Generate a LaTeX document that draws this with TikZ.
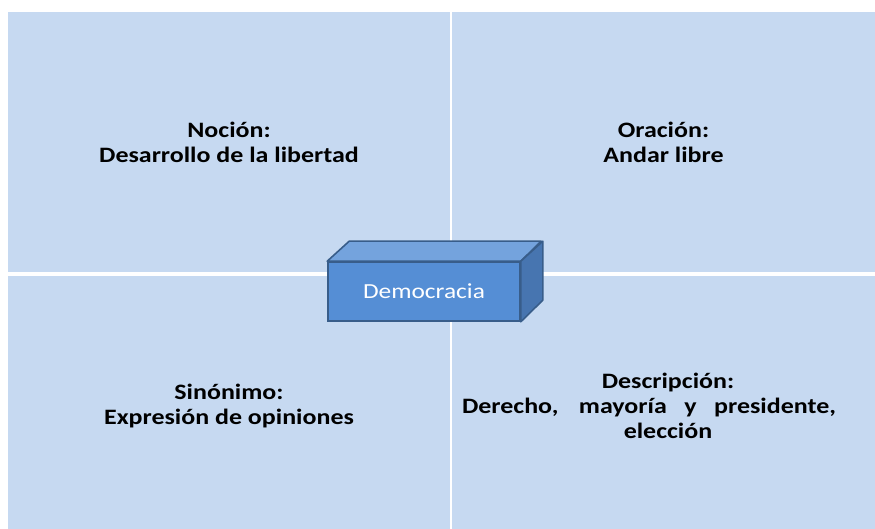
\documentclass[tikz,border=0pt]{standalone}
\usepackage{fontspec}
\setmainfont[FakeStretch=1.18]{Carlito}
\usetikzlibrary{positioning}
\definecolor{azulclaro}{HTML}{C6D9F1}
\definecolor{frente}{HTML}{558ED5}
\definecolor{tapa}{HTML}{74A3DD}
\definecolor{lado}{HTML}{4775B0}
\definecolor{borde}{HTML}{385D8A}
\tikzset{x = 1pt, y = 1pt,
         cuadro/.style = {fill = azulclaro, inner sep = 0pt},
         rotulo/.style = {font = \fontsize{22}{25}\selectfont\bfseries,
                          align = center, text = black},
         caja/.style = {fill = frente, draw = borde, line width = 1.6pt,
                        minimum width = 192, minimum height = 59,
                        inner sep = 0pt, text = white,
                        font = \fontsize{21.5}{25}\selectfont},
         cara/.style = {draw = borde, line width = 1.6pt, line join = round}}

\begin{document}
\begin{tikzpicture}
        \useasboundingbox (0,0) rectangle (875,529);

        \node[cuadro, minimum width = 442, minimum height = 260] (q1) at (229,387)   {};
        \node[cuadro, minimum width = 423, minimum height = 260] (q2) at (663.5,387) {};
        \node[cuadro, minimum width = 442, minimum height = 253] (q3) at (229,126.5) {};
        \node[cuadro, minimum width = 423, minimum height = 253] (q4) at (663.5,126.5) {};

        \node[rotulo] (nocion)  at (q1) {Noción:\\Desarrollo de la libertad};
        \node[rotulo] (oracion) at (q2) {Oración:\\Andar libre};
        \node[rotulo] (sinon)   at ([yshift=-4]q3.center) {Sinónimo:\\Expresión de opiniones};
        \node[rotulo] (descr)   at ([xshift=4.5, yshift=-3]q4.center)
              {Descripción:\\\makebox[374pt][s]{Derecho, mayoría y presidente,}\rule{38pt}{0pt}\\elección};

        % caja central
        \node[caja] (demo) at (424,237.5) {Democracia};
        \draw[cara, fill = tapa] (demo.north west) -- ++(22,20) -- ++(192,0) -- (demo.north east) -- cycle;
        \draw[cara, fill = lado] (demo.north east) -- ++(22,20) -- ++(0,-59) -- (demo.south east) -- cycle;
    \end{tikzpicture}
\end{document}
